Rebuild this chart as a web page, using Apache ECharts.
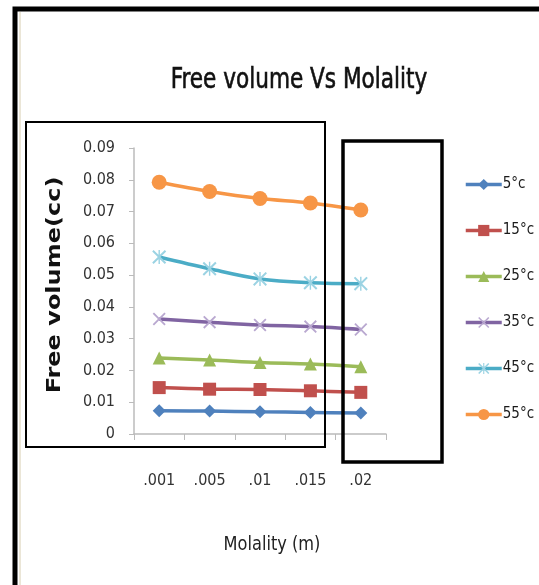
<!DOCTYPE html>
<html>
<head>
<meta charset="utf-8">
<script src="https://cdn.jsdelivr.net/npm/echarts@6/dist/echarts.min.js"></script>
<style>
  html, body { margin: 0; padding: 0; background: #fff; }
  #chart { width: 539px; height: 585px; }
</style>
</head>
<body>
<div id="chart"></div>
<script>
// Molality categories (m) and free volume (cc) per temperature
const molality = ['.001', '.005', '.01', '.015', '.02'];
const t5  = [0.0073, 0.0072, 0.0070, 0.0068, 0.0066];
const t15 = [0.0146, 0.0141, 0.0140, 0.0136, 0.0131];
const t25 = [0.0239, 0.0233, 0.0225, 0.0220, 0.0212];
const t35 = [0.0362, 0.0352, 0.0343, 0.0338, 0.0329];
const t45 = [0.0557, 0.0520, 0.0488, 0.0476, 0.0473];
const t55 = [0.0792, 0.0763, 0.0741, 0.0727, 0.0705];
const seriesNames = ['5°c', '15°c', '25°c', '35°c', '45°c', '55°c'];

const COND = '"DejaVu Sans Condensed", "Liberation Sans Narrow", sans-serif';

// marker shapes
const xPath = 'path://M0,1 L1,0 L5,4 L9,0 L10,1 L6,5 L10,9 L9,10 L5,6 L1,10 L0,9 L4,5 Z';
const starPath = 'path://M0,1 L1,0 L5,4 L9,0 L10,1 L6,5 L10,9 L9,10 L5,6 L1,10 L0,9 L4,5 Z M4.5,0 L5.5,0 L5.5,10 L4.5,10 Z';

const styles = [
  { data: t5,  color: '#4F81BD', symbol: 'diamond',  size: 13, mcolor: '#4F81BD' },
  { data: t15, color: '#C0504D', symbol: 'rect',     size: 13, mcolor: '#C0504D' },
  { data: t25, color: '#9BBB59', symbol: 'triangle', size: 13, mcolor: '#9BBB59' },
  { data: t35, color: '#8064A2', symbol: xPath,      size: 13, mcolor: '#B9A8D0' },
  { data: t45, color: '#4BACC6', symbol: starPath,   size: 14, mcolor: '#9BD3E3' },
  { data: t55, color: '#F79646', symbol: 'circle',   size: 15, mcolor: '#F79646' }
];

const chart = echarts.init(document.getElementById('chart'), null, { renderer: 'canvas' });

chart.setOption({
  animation: false,
  backgroundColor: '#fff',
  legend: {
    orient: 'vertical',
    left: 459, top: 172,
    itemWidth: 36, itemHeight: 14, itemGap: 31,
    lineStyle: { width: 3.5 },
    textStyle: { fontFamily: COND, fontSize: 15, color: '#1a1a1a', padding: [0, 0, 0, -4] },
    data: seriesNames
  },
  grid: { left: 134, right: 153, top: 148, bottom: 151 },
  xAxis: {
    type: 'category',
    data: molality,
    boundaryGap: true,
    axisLine: { lineStyle: { color: '#bbb', width: 1.5 } },
    axisTick: { show: true, length: 6, lineStyle: { color: '#bbb' } },
    axisLabel: { fontFamily: COND, fontSize: 16, color: '#333', margin: 39 }
  },
  yAxis: {
    type: 'value',
    min: 0, max: 0.09, interval: 0.01,
    axisLine: { show: true, lineStyle: { color: '#bbb', width: 1.5 } },
    axisTick: { show: true, length: 5, lineStyle: { color: '#bbb' } },
    splitLine: { show: false },
    axisLabel: {
      fontFamily: COND, fontSize: 16, color: '#333', margin: 19,
      formatter: v => (v === 0 ? '0' : v.toFixed(2))
    }
  },
  series: styles.map((s, i) => ({
    name: seriesNames[i],
    type: 'line',
    data: s.data,
    smooth: 0.35,
    symbol: s.symbol,
    symbolSize: s.size,
    lineStyle: { color: s.color, width: 3.5 },
    itemStyle: { color: s.mcolor, borderWidth: 0 },
    z: 2 + i
  })),
  graphic: [
    // chart title
    { type: 'text', x: 299, y: 81, scaleY: 1.15, z: 100,
      style: { text: 'Free volume Vs Molality', fontFamily: COND, fontSize: 24, fill: '#111',
               stroke: '#111', lineWidth: 0.5, align: 'center', verticalAlign: 'middle' } },
    // x-axis title
    { type: 'text', x: 272, y: 545, scaleY: 1.1, z: 100,
      style: { text: 'Molality (m)', fontFamily: COND, fontSize: 18, fill: '#222',
               align: 'center', verticalAlign: 'middle' } },
    // y-axis title
    { type: 'text', x: 55, y: 285, rotation: Math.PI / 2, scaleX: 1.2, z: 100,
      style: { text: 'Free volume(cc)', fontFamily: '"DejaVu Sans", sans-serif', fontSize: 20, fontWeight: 'bold',
               fill: '#111', align: 'center', verticalAlign: 'middle' } },
    // outer frame
    { type: 'rect', shape: { x: 15, y: 9, width: 540, height: 600 }, style: { fill: 'none', stroke: '#000', lineWidth: 5 }, z: 100 },
    { type: 'line', shape: { x1: 20, y1: 12, x2: 20, y2: 585 }, style: { stroke: '#d8ceb0', lineWidth: 1 }, z: 100 },
    // left box
    { type: 'rect', shape: { x: 26, y: 122, width: 299, height: 325 }, style: { fill: 'none', stroke: '#000', lineWidth: 2 }, z: 100 },
    // right box
    { type: 'rect', shape: { x: 343, y: 141, width: 99, height: 321 }, style: { fill: 'none', stroke: '#000', lineWidth: 3.5 }, z: 100 }
  ]
});
</script>
</body>
</html>
